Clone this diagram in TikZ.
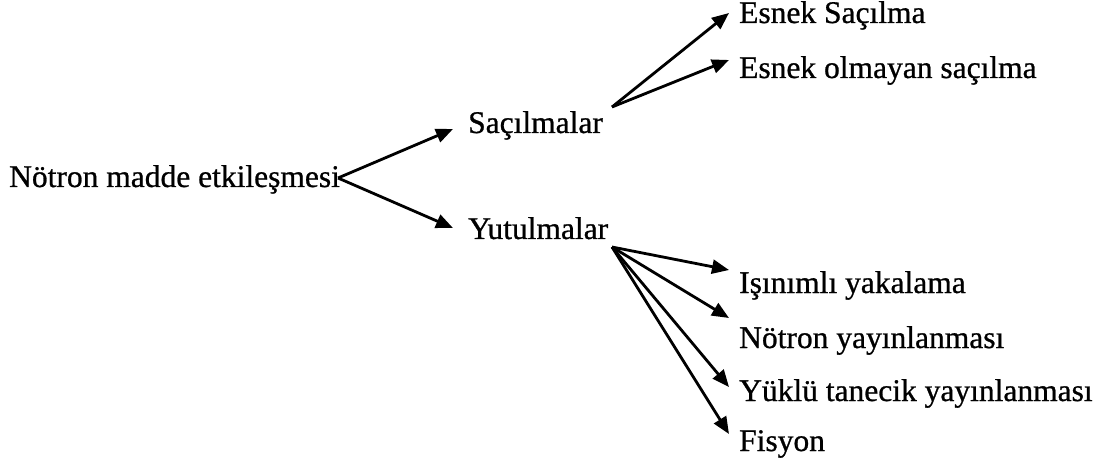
\documentclass[tikz,border=0pt]{standalone}
\usepackage{fontspec}
\setmainfont{Liberation Serif}
\newfontfamily\inkfont{Liberation Serif}[FakeBold=0.8]
\usetikzlibrary{arrows.meta}
\begin{document}
\begin{tikzpicture}[x=1pt,y=-1pt,
  lbl/.style={anchor=base west,inner sep=0pt,font=\inkfont\fontsize{31.5}{36}\selectfont},
  arr/.style={line width=2.8pt,-{Triangle[length=17pt,width=14pt]}}]
\useasboundingbox (0,0) rectangle (1097,470);
\node[lbl] (root) at (9,187) {Nötron madde etkileşmesi};
\node[lbl] (sac) at (468,133) {Saçılmalar};
\node[lbl] (yut) at (468,239) {Yutulmalar};
\node[lbl] (es) at (739,23) {Esnek Saçılma};
\node[lbl] (eo) at (739,78) {Esnek olmayan saçılma};
\node[lbl] (is) at (739,293) {Işınımlı yakalama};
\node[lbl] (ny) at (739,348) {Nötron yayınlanması};
\node[lbl] (yt) at (739,401) {Yüklü tanecik yayınlanması};
\node[lbl] (fi) at (739,451) {Fisyon};
% hubs and tips
\coordinate (h0) at (338,178);
\coordinate (h1) at (612,107);
\coordinate (h2) at (612,247);
\coordinate (tsac) at (453,129);
\coordinate (tyut) at (453,228);
\coordinate (tes) at (729,13);
\coordinate (teo) at (729,60);
\coordinate (tis) at (729,270);
\coordinate (tny) at (729,318);
\coordinate (tyt) at (729,387);
\coordinate (tfi) at (729,434);
\draw[arr] (h0) -- (tsac);
\draw[arr] (h0) -- (tyut);
\draw[arr] (h1) -- (tes);
\draw[arr] (h1) -- (teo);
\draw[arr] (h2) -- (tis);
\draw[arr] (h2) -- (tny);
\draw[arr] (h2) -- (tyt);
\draw[arr] (h2) -- (tfi);
\end{tikzpicture}
\end{document}
